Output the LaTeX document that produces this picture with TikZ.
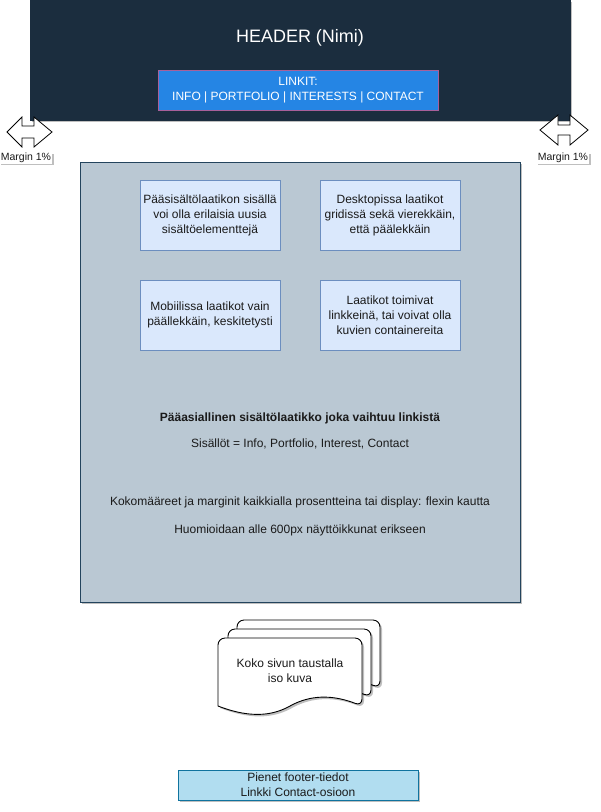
\documentclass[tikz,border=0pt]{standalone}
\usepackage{fontspec}
\setmainfont{Liberation Sans}
\usetikzlibrary{shadows}
\definecolor{hdr}{HTML}{1B2D3E}
\definecolor{linkfill}{HTML}{2585E4}
\definecolor{linkdraw}{HTML}{A8609A}
\definecolor{mainfill}{HTML}{BAC8D3}
\definecolor{maindraw}{HTML}{23445D}
\definecolor{subfill}{HTML}{DAE8FC}
\definecolor{subdraw}{HTML}{6C8EBF}
\definecolor{footfill}{HTML}{B1DDF0}
\definecolor{footdraw}{HTML}{10739E}
\definecolor{txt}{HTML}{1A1A1A}
\begin{document}
\begin{tikzpicture}[x=1pt,y=-1pt,
  box/.style={rectangle, draw, inner sep=0pt, align=center, text=txt,
    font=\fontsize{12}{15}\selectfont},
  shad/.style={drop shadow={shadow xshift=2pt, shadow yshift=-2pt, opacity=0.25, fill=black}},
  subbox/.style={box, fill=subfill, draw=subdraw, minimum width=140pt, minimum height=70pt},
  plain/.style={inner sep=0pt, align=center, text=txt, font=\fontsize{12}{15}\selectfont},
  marginlbl/.style={fill=white, inner sep=1pt, text=txt, font=\fontsize{10.5}{12}\selectfont,
    drop shadow={shadow xshift=1.5pt, shadow yshift=-1.5pt, opacity=0.25, fill=black}},
  arrowshape/.style={draw=black, fill=white, line width=0.8pt, line join=miter}
]
\useasboundingbox (0,0) rectangle (601,812);

% header
\node[box, fill=hdr, draw=hdr, shad, minimum width=540pt, minimum height=120pt] (header) at (300,60) {};
\node[plain, text=white, font=\fontsize{18}{20}\selectfont] (title) at (300,38) {HEADER (Nimi)};
\node[box, fill=linkfill, draw=linkdraw, text=white, minimum width=280pt, minimum height=40pt] (links) at (298,90)
  {LINKIT:\\INFO | PORTFOLIO | INTERESTS | CONTACT};

% margin arrows
\draw[arrowshape] (7,132) -- (22,117) -- (22,126) -- (34,126) -- (34,117) -- (52,132)
  -- (34,147) -- (34,138) -- (22,138) -- (22,147) -- cycle;
\draw[arrowshape] (540,130) -- (558,115) -- (558,125) -- (570,125) -- (570,115) -- (588,130)
  -- (570,145) -- (570,135) -- (558,135) -- (558,145) -- cycle;
\node[marginlbl] (mleft) at (26,158) {Margin 1\%};
\node[marginlbl] (mright) at (563,158) {Margin 1\%};

% main content
\node[box, fill=mainfill, draw=maindraw, shad, minimum width=440pt, minimum height=440pt] (main) at (300,382) {};
\node[subbox] (b1) at (210,215) {Pääsisältölaatikon sisällä\\voi olla erilaisia uusia\\sisältöelementtejä};
\node[subbox] (b2) at (390,215) {Desktopissa laatikot\\gridissä sekä vierekkäin,\\että päälekkäin};
\node[subbox] (b3) at (210,315) {Mobiilissa laatikot vain\\päällekkäin, keskitetysti};
\node[subbox] (b4) at (390,315) {Laatikot toimivat\\linkkeinä, tai voivat olla\\kuvien containereita};
\node[plain, font=\bfseries\fontsize{12}{15}\selectfont] (t1) at (300,418) {Pääasiallinen sisältölaatikko joka vaihtuu linkistä};
\node[plain] (t2) at (300,444) {Sisällöt = Info, Portfolio, Interest, Contact};
\node[plain] (t3) at (300,502) {Kokomääreet ja marginit kaikkialla prosentteina tai display: flexin kautta};
\node[plain] (t4) at (300,530) {Huomioidaan alle 600px näyttöikkunat erikseen};

% multi document
\begin{scope}[line width=0.9pt, fill=white, draw=black]
  \foreach \L/\R/\T/\Y in {237/380/620/688, 228/371/629/697, 218/362/638/706}{
    \filldraw[rounded corners=7pt, shad] (\L,\Y) -- (\L,\T) -- (\R,\T) -- (\R,\Y)
      [sharp corners] .. controls ({\R-0.25*(\R-\L)},{\Y-14}) and ({\R-0.4*(\R-\L)},{\Y-8}) .. ({0.5*(\L+\R)},\Y)
      .. controls ({\L+0.4*(\R-\L)},{\Y+8}) and ({\L+0.25*(\R-\L)},{\Y+14}) .. (\L,\Y) -- cycle;
  }
\end{scope}
\node[plain] (doc) at (290,671) {Koko sivun taustalla\\iso kuva};

% footer
\node[box, fill=footfill, draw=footdraw, shad, minimum width=240pt, minimum height=30pt] (footer) at (298,785)
  {Pienet footer-tiedot\\Linkki Contact-osioon};
\end{tikzpicture}
\end{document}
